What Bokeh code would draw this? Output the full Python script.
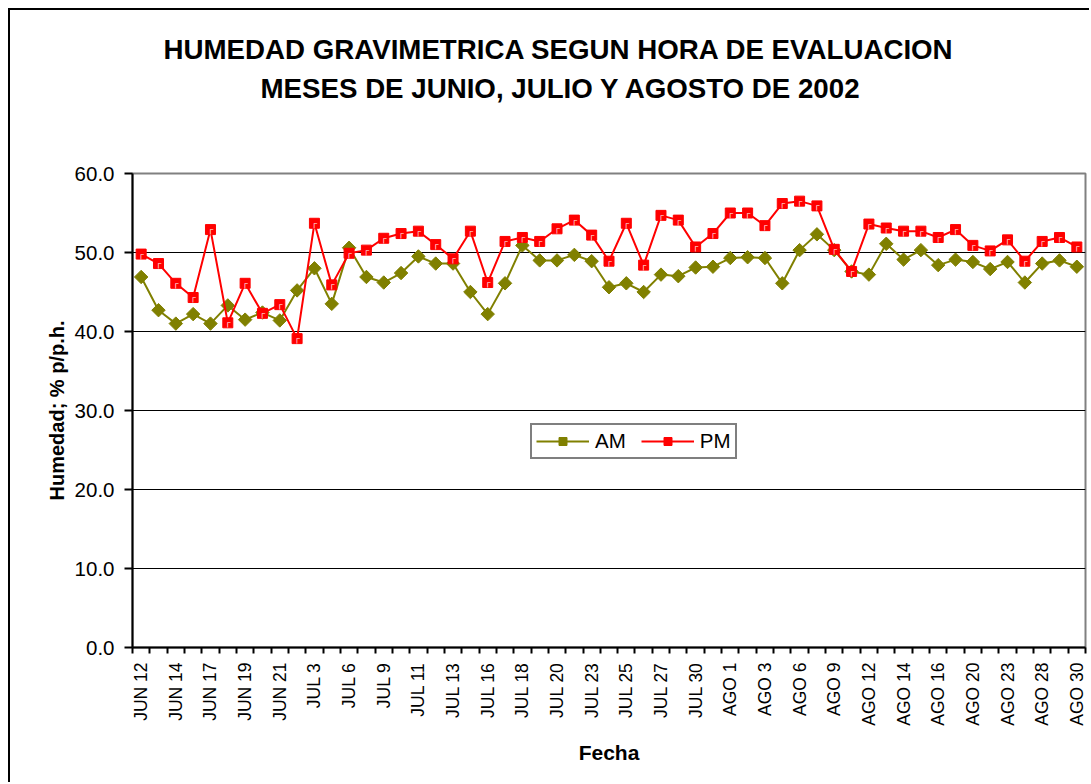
import math
from bokeh.plotting import figure
from bokeh.models import Range1d, FixedTicker, Legend, LegendItem, Title, PrintfTickFormatter
from bokeh.embed import file_html
from bokeh.resources import INLINE

tick_labels = ["JUN 12", "JUN 14", "JUN 17", "JUN 19", "JUN 21", "JUL 3", "JUL 6",
               "JUL 9", "JUL 11", "JUL 13", "JUL 16", "JUL 18", "JUL 20", "JUL 23",
               "JUL 25", "JUL 27", "JUL 30", "AGO 1", "AGO 3", "AGO 6", "AGO 9",
               "AGO 12", "AGO 14", "AGO 16", "AGO 20", "AGO 23", "AGO 28", "AGO 30"]

am = [46.9, 42.7, 41.0, 42.2, 41.0, 43.3, 41.5, 42.4, 41.4, 45.2, 48.0, 43.5, 50.6,
      46.9, 46.2, 47.4, 49.5, 48.6, 48.6, 45.0, 42.2, 46.1, 50.9, 49.0, 49.0, 49.7,
      48.9, 45.6, 46.1, 45.0, 47.2, 47.0, 48.1, 48.2, 49.3, 49.4, 49.3, 46.1, 50.3,
      52.3, 50.3, 47.6, 47.2, 51.1, 49.1, 50.3, 48.4, 49.1, 48.8, 47.9, 48.8, 46.2,
      48.6, 49.0, 48.2]

pm = [49.8, 48.6, 46.1, 44.3, 52.9, 41.1, 46.1, 42.3, 43.4, 39.1, 53.7, 45.9, 49.9,
      50.3, 51.8, 52.4, 52.7, 51.0, 49.2, 52.7, 46.2, 51.4, 51.9, 51.4, 53.0, 54.1,
      52.2, 48.9, 53.7, 48.4, 54.7, 54.1, 50.7, 52.4, 55.0, 55.0, 53.4, 56.2, 56.5,
      55.9, 50.4, 47.6, 53.6, 53.1, 52.7, 52.7, 51.9, 52.9, 50.9, 50.2, 51.6, 48.9,
      51.4, 51.9, 50.7]

title_lines = ["HUMEDAD GRAVIMETRICA SEGUN HORA DE EVALUACION",
               "MESES DE JUNIO, JULIO Y AGOSTO DE 2002"]

n = len(am)
xs = list(range(n))
FONT = "Liberation Sans"

# page coordinates of the canvas origin (margin 8 + 2px border)
OX, OY = 10, 10
FRAME_L, FRAME_T, FRAME_R, FRAME_B = 132, 173, 1085, 647
PAGE_W, PAGE_H = 1091, 784
W, H = PAGE_W - OX, PAGE_H - OY
p = figure(width=W, height=H, output_backend="svg", toolbar_location=None,
           x_range=Range1d(-0.5, n - 0.5), y_range=Range1d(0, 60),
           min_border_left=FRAME_L - OX, min_border_right=PAGE_W - FRAME_R,
           min_border_top=FRAME_T - OY, min_border_bottom=PAGE_H - FRAME_B)
p.margin = (8, 0, 0, 8)
p.styles = {"border-left": "2px solid black", "border-top": "2px solid black"}

p.outline_line_color = "#808080"
p.outline_line_width = 2
p.xgrid.visible = False
p.ygrid.ticker = FixedTicker(ticks=[10, 20, 30, 40, 50])
p.ygrid.grid_line_color = "black"
p.ygrid.grid_line_width = 1

# x axis
xa = p.xaxis[0]
xa.ticker = FixedTicker(ticks=list(range(0, n, 2)),
                        minor_ticks=[i - 0.5 for i in range(n + 1)])
xa.major_label_overrides = {i * 2: lab for i, lab in enumerate(tick_labels)}
xa.major_label_orientation = math.pi / 2
xa.major_tick_line_color = None
xa.major_tick_out = 0
xa.major_tick_in = 0
xa.minor_tick_out = 6
xa.minor_tick_in = 0
xa.minor_tick_line_color = "black"
xa.minor_tick_line_width = 2
xa.axis_line_color = "black"
xa.axis_line_width = 2
xa.major_label_text_font = FONT
xa.major_label_text_font_size = "17.5px"
xa.major_label_text_color = "black"
xa.major_label_standoff = 9
xa.axis_label = "Fecha"
xa.axis_label_text_font = FONT
xa.axis_label_text_font_size = "21px"
xa.axis_label_text_font_style = "bold"
xa.axis_label_text_color = "black"
xa.axis_label_standoff = 12

# y axis
ya = p.yaxis[0]
ya.ticker = FixedTicker(ticks=[0, 10, 20, 30, 40, 50, 60])
ya.formatter = PrintfTickFormatter(format="%.1f")
ya.major_tick_out = 8
ya.major_tick_in = 0
ya.major_tick_line_width = 2
ya.major_tick_line_color = "black"
ya.minor_tick_line_color = None
ya.axis_line_color = "black"
ya.axis_line_width = 2
ya.major_label_text_font = FONT
ya.major_label_text_font_size = "20.5px"
ya.major_label_text_color = "black"
ya.major_label_standoff = 10
ya.axis_label = "Humedad; % p/p.h."
ya.axis_label_text_font = FONT
ya.axis_label_text_font_size = "20px"
ya.axis_label_text_font_style = "bold"
ya.axis_label_text_color = "black"
ya.axis_label_standoff = 4

# series
OLIVE = "#808000"
RED = "#FF0000"
am_line = p.line(xs, am, line_color=OLIVE, line_width=2)
am_pts = p.scatter(xs, am, marker="square", angle=math.pi / 4, size=9.5,
                   fill_color=OLIVE, line_color=OLIVE)
pm_line = p.line(xs, pm, line_color=RED, line_width=2)
pm_pts = p.scatter(xs, pm, marker="square", size=10, fill_color=RED, line_color=RED)
p.text(xs, pm, text=["┌"] * n, text_color="white", text_font_size="8px",
       text_align="center", text_baseline="middle")

legend = Legend(items=[LegendItem(label="AM", renderers=[am_line, am_pts]),
                       LegendItem(label="PM", renderers=[pm_line, pm_pts])],
                orientation="horizontal", location=(530 - FRAME_L, FRAME_B - 459))
legend.border_line_color = "black"
legend.border_line_width = 2
legend.background_fill_color = "white"
legend.background_fill_alpha = 1
legend.label_text_font = FONT
legend.label_text_font_size = "20.5px"
legend.label_text_color = "black"
legend.glyph_width = 53
legend.glyph_height = 20
legend.label_standoff = 6
legend.spacing = 15
legend.padding = 4
legend.margin = 0
p.add_layout(legend)

# titles: spacer nearest the frame, then line 2, then line 1 (left-aligned at the
# page x positions of the reference's centred titles)
spacer = Title(text=" ", align="center", text_font=FONT, text_font_size="27.7px")
spacer.standoff = 33
p.add_layout(spacer, "above")
for txt, left_x, so in [(title_lines[1], 260, 7), (title_lines[0], 163, 5)]:
    t = Title(text=txt, align="left", offset=left_x - FRAME_L, text_font=FONT,
              text_font_size="27.7px", text_font_style="bold", text_color="black")
    t.standoff = so
    p.add_layout(t, "above")

open("out.html", "w").write(file_html(p, INLINE))
